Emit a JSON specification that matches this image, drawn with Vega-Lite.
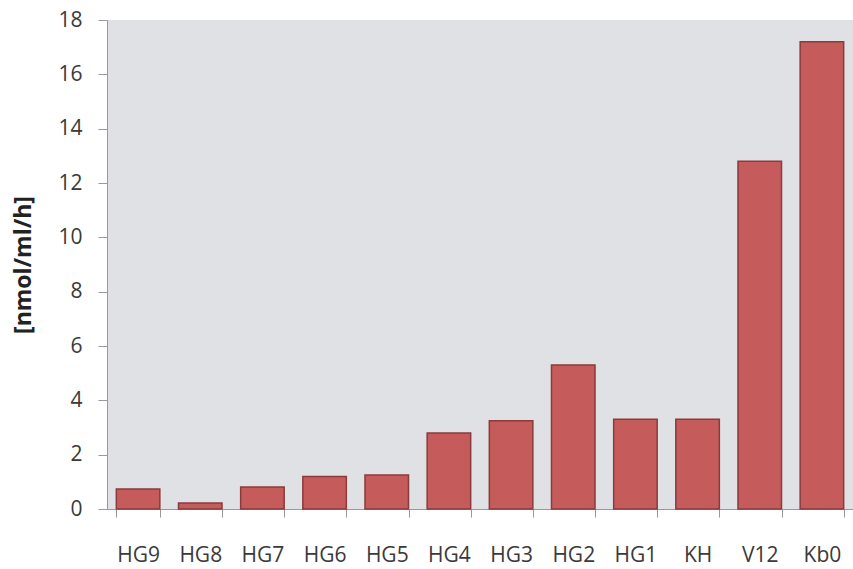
{
  "$schema": "https://vega.github.io/schema/vega-lite/v6.json",
  "autosize": {"type": "none"},
  "padding": {"left": 107, "top": 20, "right": 0, "bottom": 59},
  "width": 746,
  "height": 489,
  "background": "white",
  "view": {"fill": "#e0e1e5", "stroke": null},
  "data": {"values": [
    {"sample": "HG9", "value": 0.74},
    {"sample": "HG8", "value": 0.22},
    {"sample": "HG7", "value": 0.81},
    {"sample": "HG6", "value": 1.2},
    {"sample": "HG5", "value": 1.25},
    {"sample": "HG4", "value": 2.8},
    {"sample": "HG3", "value": 3.25},
    {"sample": "HG2", "value": 5.3},
    {"sample": "HG1", "value": 3.3},
    {"sample": "KH", "value": 3.3},
    {"sample": "V12", "value": 12.8},
    {"sample": "Kb0", "value": 17.2}
  ]},
  "mark": {"type": "bar", "color": "#c55b5b", "stroke": "#8a3b3b", "strokeWidth": 1.5},
  "encoding": {
    "x": {
      "field": "sample", "type": "nominal", "sort": null,
      "scale": {"paddingInner": 0.3, "paddingOuter": 0.15},
      "axis": {
        "title": null, "labelAngle": 0, "labelFont": "Open Sans", "labelFontSize": 21,
        "labelColor": "#3a3a3a", "labelPadding": 27, "tickBand": "extent",
        "tickColor": "#999999", "tickSize": 8, "domainColor": "#999999", "grid": false
      }
    },
    "y": {
      "field": "value", "type": "quantitative",
      "scale": {"domain": [0, 18]},
      "axis": {
        "title": "[nmol/ml/h]", "titleFont": "Open Sans", "titleFontSize": 23, "titleFontWeight": "bold",
        "titleColor": "#222222", "titlePadding": 22,
        "values": [0, 2, 4, 6, 8, 10, 12, 14, 16, 18],
        "labelFont": "Open Sans", "labelFontSize": 21, "labelColor": "#3a3a3a", "labelPadding": 16,
        "tickColor": "#999999", "tickSize": 9, "domainColor": "#999999", "grid": false
      }
    }
  }
}
